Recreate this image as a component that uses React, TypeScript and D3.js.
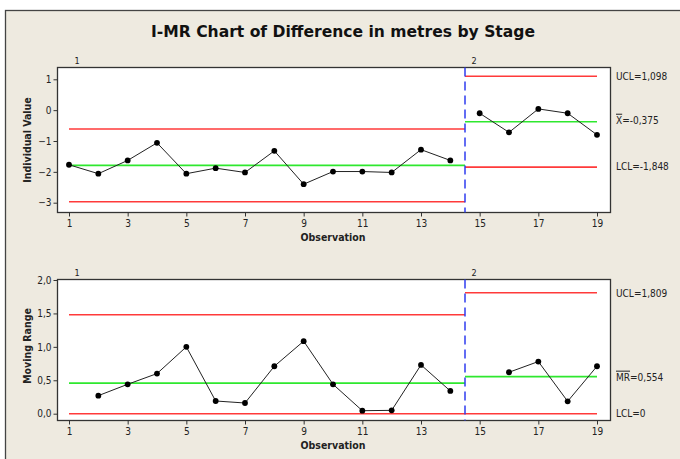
import React, { useEffect, useRef } from "react";
import * as d3 from "d3";

// observations and stage membership
const observations = [1, 2, 3, 4, 5, 6, 7, 8, 9, 10, 11, 12, 13, 14, 15, 16, 17, 18, 19];
const stage = [1, 1, 1, 1, 1, 1, 1, 1, 1, 1, 1, 1, 1, 1, 2, 2, 2, 2, 2];

// individual values
const individual = [-1.77, -2.06, -1.63, -1.06, -2.06, -1.88, -2.02, -1.32, -2.4, -1.99, -1.99, -2.02, -1.28, -1.63, -0.1, -0.72, 0.04, -0.1, -0.8];
// moving ranges (first point of each stage has none)
const movingRange = [null, 0.27, 0.44, 0.6, 1.0, 0.19, 0.16, 0.71, 1.085, 0.44, 0.045, 0.05, 0.73, 0.34, null, 0.62, 0.78, 0.185, 0.71];

// control limits per stage
const stageNames = ["1", "2"];
const stageFrom = [1, 14.5];
const stageTo = [14.5, 19];
const iUCL = [-0.61, 1.098];
const iCL = [-1.79, -0.375];
const iLCL = [-2.97, -1.848];
const mrUCL = [1.48, 1.809];
const mrCL = [0.458, 0.554];
const mrLCL = [0, 0];

// ticks
const xTicks = [1, 3, 5, 7, 9, 11, 13, 15, 17, 19];
const iTicks = [1, 0, -1, -2, -3];
const mrTicks = [0, 0.5, 1, 1.5, 2];

const FONT = "Tahoma, 'DejaVu Sans Condensed', 'DejaVu Sans', sans-serif";
const RED = "#ff3a3a";
const GREEN = "#2ee82e";
const BLUE = "#2f3cf0";

const App = () => {
  const ref = useRef<SVGSVGElement>(null);

  useEffect(() => {
    const svg = d3.select(ref.current);
    svg.selectAll("*").remove();

    // background frame
    svg.append("rect")
      .attr("x", 5.5).attr("y", 10.5)
      .attr("width", 700).attr("height", 500)
      .attr("fill", "#eeeae0")
      .attr("stroke", "#444").attr("stroke-width", 1.3);

    svg.append("text")
      .attr("x", 343).attr("y", 37)
      .attr("text-anchor", "middle")
      .attr("font-family", FONT)
      .attr("font-weight", "bold")
      .attr("font-size", 16)
      .attr("textLength", 384)
      .attr("lengthAdjust", "spacingAndGlyphs")
      .attr("fill", "#111")
      .text("I-MR Chart of Difference in metres by Stage");

    const x = d3.scaleLinear().domain([1, 19]).range([69, 597]);
    const left = 57.5, right = 610.5;

    const fmtI = (d: number) => d3.format("d")(d);
    const fmtMR = (d: number) => d3.format(".1f")(d).replace(".", ",");

    const panel = (opts: any) => {
      const { top, bottom, y, ticks, fmt, values, ucl, cl, lcl, yTitle, labels, titleY } = opts;
      const g = svg.append("g");

      g.append("rect")
        .attr("x", left).attr("y", top)
        .attr("width", right - left).attr("height", bottom - top)
        .attr("fill", "#fff")
        .attr("stroke", "#333").attr("stroke-width", 1.3);

      // y axis
      const yAxis = d3.axisLeft(y).tickValues(ticks).tickSize(4).tickFormat(fmt);
      const ya = g.append("g").attr("transform", `translate(${left},0)`).call(yAxis as any);
      ya.select(".domain").remove();
      ya.selectAll("line").attr("stroke", "#333");
      ya.selectAll("text").attr("font-family", FONT).attr("font-size", 10).attr("fill", "#222").attr("x", -6);

      // x axis
      const xAxis = d3.axisBottom(x).tickValues(xTicks).tickSize(4).tickFormat(d3.format("d") as any);
      const xa = g.append("g").attr("transform", `translate(0,${bottom})`).call(xAxis as any);
      xa.select(".domain").remove();
      xa.selectAll("line").attr("stroke", "#333");
      xa.selectAll("text").attr("font-family", FONT).attr("font-size", 10).attr("fill", "#222").attr("y", 7);

      g.append("text")
        .attr("x", 333).attr("y", bottom + 28)
        .attr("text-anchor", "middle")
        .attr("font-family", FONT).attr("font-weight", "bold").attr("font-size", 10.5)
        .attr("fill", "#222")
        .text("Observation");

      g.append("text")
        .attr("transform", `translate(31,${titleY}) rotate(-90)`)
        .attr("text-anchor", "middle")
        .attr("font-family", FONT).attr("font-weight", "bold").attr("font-size", 10.5)
        .attr("fill", "#222")
        .text(yTitle);

      // stage labels
      stageNames.forEach((s, i) => {
        g.append("text")
          .attr("x", i === 0 ? 77 : x(stageFrom[i]) + 9).attr("y", top - 4)
          .attr("text-anchor", "middle")
          .attr("font-family", FONT).attr("font-size", 9).attr("fill", "#222")
          .text(s);
      });

      // control limits
      stageNames.forEach((s, i) => {
        [[ucl[i], RED], [cl[i], GREEN], [lcl[i], RED]].forEach(([v, c]) => {
          g.append("line")
            .attr("x1", x(stageFrom[i])).attr("x2", x(stageTo[i]))
            .attr("y1", y(v as number)).attr("y2", y(v as number))
            .attr("stroke", c as string).attr("stroke-width", 1.6);
        });
      });

      // stage divider
      g.append("line")
        .attr("x1", x(14.5)).attr("x2", x(14.5))
        .attr("y1", top).attr("y2", bottom)
        .attr("stroke", BLUE).attr("stroke-width", 1.5)
        .attr("stroke-dasharray", "9,5");

      // data line per stage
      stageNames.forEach((s, si) => {
        const idx = observations.map((o, i) => i).filter(i => stage[i] === si + 1 && values[i] !== null);
        const l = d3.line<number>().x(i => x(observations[i])).y(i => y(values[i]));
        g.append("path")
          .attr("d", l(idx))
          .attr("fill", "none")
          .attr("stroke", "#222").attr("stroke-width", 1);
      });

      g.selectAll("circle.pt")
        .data(observations.filter((o, i) => values[i] !== null))
        .enter().append("circle")
        .attr("cx", d => x(d))
        .attr("cy", d => y(values[d - 1]))
        .attr("r", 2.9)
        .attr("fill", "#000");

      // right labels
      labels.forEach((lb: any) => {
        const t = g.append("text")
          .attr("x", 616).attr("y", lb.y + 4)
          .attr("font-family", FONT).attr("font-size", 10).attr("fill", "#222");
        if (lb.bar) {
          t.append("tspan").style("text-decoration", "overline").text(lb.bar);
        }
        t.append("tspan").text(lb.text);
      });
    };

    const yI = d3.scaleLinear().domain([-3, 1]).range([202.7, 79.3]);
    panel({
      top: 67.5, bottom: 212.5, y: yI, ticks: iTicks, fmt: fmtI, values: individual,
      ucl: iUCL, cl: iCL, lcl: iLCL, yTitle: "Individual Value", titleY: 140,
      labels: [
        { y: yI(iUCL[1]), text: "UCL=1,098" },
        { y: yI(iCL[1]) - 2, bar: "X", text: "=-0,375" },
        { y: yI(iLCL[1]) - 1, text: "LCL=-1,848" },
      ],
    });

    const yMR = d3.scaleLinear().domain([0, 2]).range([413.7, 280]);
    panel({
      top: 279.5, bottom: 420.5, y: yMR, ticks: mrTicks, fmt: fmtMR, values: movingRange,
      ucl: mrUCL, cl: mrCL, lcl: mrLCL, yTitle: "Moving Range", titleY: 346,
      labels: [
        { y: yMR(mrUCL[1]), text: "UCL=1,809" },
        { y: yMR(mrCL[1]), bar: "MR", text: "=0,554" },
        { y: yMR(mrLCL[1]) - 1, text: "LCL=0" },
      ],
    });
  }, []);

  return (
    <svg ref={ref} width={680} height={459}
      style={{ position: "absolute", left: 0, top: 0, display: "block", background: "#fff" }} />
  );
};

export default App;
